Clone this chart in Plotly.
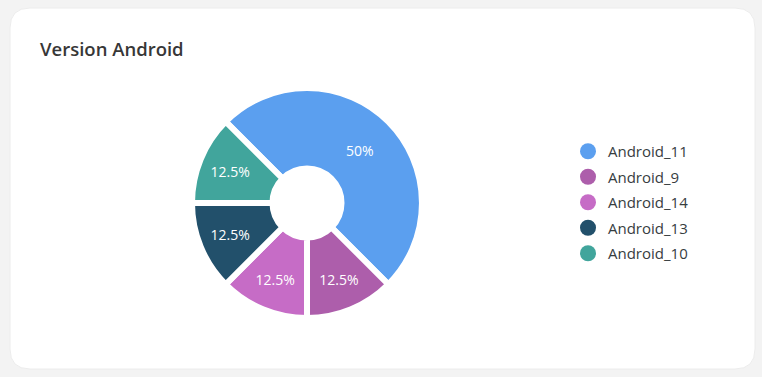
import plotly.graph_objects as go

labels = ["Android_11", "Android_9", "Android_14", "Android_13", "Android_10"]
values = [4, 1, 1, 1, 1]
colors = ["#5B9FEF", "#AD5EAB", "#C66CC6", "#22506B", "#41A59C"]

W, H = 762, 377
cx, cy, R = 307, 203, 115

fig = go.Figure()

# card background
x0, x1 = 10 / W, 755 / W
y0, y1 = 1 - 369 / H, 1 - 8 / H
rx, ry = 20 / W, 20 / H
card = (f"M {x0+rx},{y1} L {x1-rx},{y1} Q {x1},{y1} {x1},{y1-ry} "
        f"L {x1},{y0+ry} Q {x1},{y0} {x1-rx},{y0} L {x0+rx},{y0} "
        f"Q {x0},{y0} {x0},{y0+ry} L {x0},{y1-ry} Q {x0},{y1} {x0+rx},{y1} Z")
fig.add_shape(type="path", path=card, xref="paper", yref="paper",
              fillcolor="white", line=dict(color="#ececec", width=1), layer="below")

fig.add_trace(go.Pie(
    labels=labels, values=values, sort=False, direction="clockwise", rotation=-45,
    hole=0.30,
    marker=dict(colors=colors, line=dict(color="white", width=6)),
    textinfo="percent", texttemplate="%{percent:.3~p}",
    textposition="inside", insidetextorientation="horizontal",
    textfont=dict(color="white", size=14, family="Open Sans", weight=500),
    domain=dict(x=[(cx - R) / W, (cx + R) / W], y=[(H - cy - R) / H, (H - cy + R) / H]),
    showlegend=False, hoverinfo="label+percent",
))

for lab, col in zip(labels, colors):
    fig.add_trace(go.Scatter(x=[None], y=[None], mode="markers", name=lab, legendgroup=lab,
                             marker=dict(color=col, size=16, symbol="circle")))

fig.update_layout(
    width=W, height=H,
    margin=dict(l=0, r=0, t=0, b=0),
    paper_bgcolor="#f3f3f3", plot_bgcolor="rgba(0,0,0,0)",
    xaxis=dict(visible=False, domain=[0.9, 1]), yaxis=dict(visible=False, domain=[0.9, 1]),
    title=dict(text="Version Android", x=40 / W, xanchor="left", y=1 - 50 / H, yanchor="middle",
               font=dict(family="Open Sans", size=18.5, color="#373737", weight=600)),
    legend=dict(x=568 / W, xanchor="left", y=1 - 135 / H, yanchor="top",
                font=dict(family="Open Sans", size=15, color="#373d3f"),
                bgcolor="rgba(0,0,0,0)", itemsizing="trace", tracegroupgap=3),
    font=dict(family="Open Sans"),
)

fig.write_html("out.html", config={"displayModeBar": False},
               post_script="document.body.style.margin='0';")
